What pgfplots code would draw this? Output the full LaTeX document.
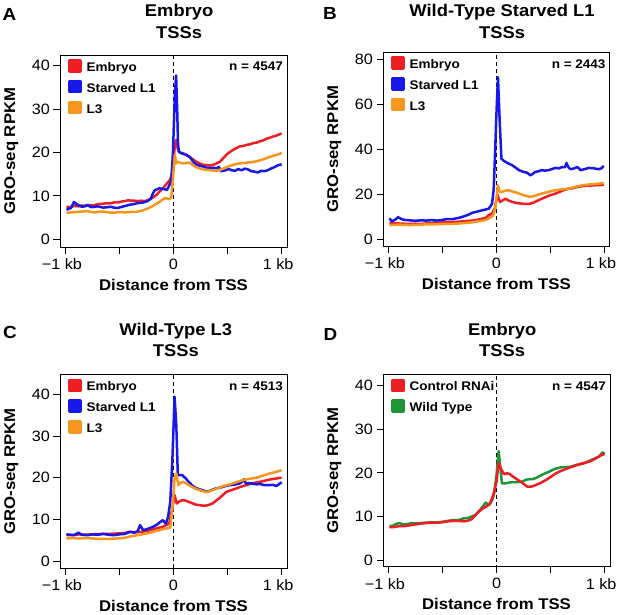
\documentclass[border=0pt]{standalone}
\usepackage{fontspec}
\setmainfont{Liberation Sans}[FakeStretch=1.08]
\usepackage{pgfplots}
\pgfplotsset{compat=1.18}
\definecolor{cred}{RGB}{238,30,36}
\definecolor{cblue}{RGB}{24,24,235}
\definecolor{corange}{RGB}{247,150,30}
\definecolor{cgreen}{RGB}{30,150,55}
\tikzset{nlab/.style={anchor=base east, font=\bfseries\fontsize{12.5}{12.5}\selectfont, inner sep=0pt, xshift=-4pt, yshift=-16pt}}
\pgfplotsset{
 panel/.style={
  scale only axis, width=227pt, height=193pt,
  xmin=-1.05, xmax=1.05,
  axis line style={line width=0.9pt},
  every tick/.style={black, line width=0.9pt},
  tick align=outside, major tick length=6.5pt,
  xtick pos=bottom, ytick pos=left,
  xtick={-1,-0.5,0,0.5,1}, xticklabels={−1 kb\hspace*{7pt},,0,,1 kb\hspace*{7pt}},
  tick label style={font=\fontsize{15}{15}\selectfont},
  xticklabel style={yshift=-1.5pt},
  /pgf/number format/assume math mode=true,
  xlabel={Distance from TSS}, ylabel={GRO-seq RPKM},
  label style={font=\bfseries\fontsize{15.5}{15.5}\selectfont},
  xlabel style={at={(axis description cs:0.5,-0.224)}, anchor=base, inner sep=0pt},
  ylabel style={at={(axis description cs:-0.198,0.5)}, anchor=base, inner sep=0pt},
  title style={at={(axis description cs:0.525,1)}, anchor=south, inner sep=0pt, align=center, font=\bfseries\fontsize{17}{21.5}\selectfont},
  legend style={at={(axis description cs:0,1)}, anchor=north west, xshift=8pt, yshift=-4pt, draw=none, fill=none, inner sep=0pt, font=\bfseries\fontsize{12.5}{12.5}\selectfont, nodes={inner sep=0pt, text height=10.2pt, text depth=8.4pt}, column sep=5pt, row sep=0pt},
  legend cell align=left,
  legend image code/.code={\fill[##1] (0pt,-0.8pt) rectangle (11pt,10.2pt);},
  every axis plot/.append style={line width=2.5pt, line join=round},
 },
 vdash/.style={black, line width=0.9pt, dash pattern=on 4pt off 3pt, forget plot},
}
\begin{document}
\begin{tikzpicture}
\path[use as bounding box] (0pt,0pt) rectangle (617pt,614pt);
\node[anchor=base west, font=\bfseries\fontsize{17.5}{17.5}\selectfont, inner sep=0pt] at (2.5pt,593.3pt) {A};
\node[anchor=base west, font=\bfseries\fontsize{17.5}{17.5}\selectfont, inner sep=0pt] at (323pt,594pt) {B};
\node[anchor=base west, font=\bfseries\fontsize{17.5}{17.5}\selectfont, inner sep=0pt] at (3pt,275.7pt) {C};
\node[anchor=base west, font=\bfseries\fontsize{17.5}{17.5}\selectfont, inner sep=0pt] at (323.5pt,274pt) {D};

% ---------------- A
\begin{axis}[panel, at={(60pt,367pt)}, anchor=south west, height=192pt,
  ymin=-1.78, ymax=42.5, ytick={0,10,20,30,40}, title={Embryo\\TSSs},
  title style={yshift=10.5pt}]
\addplot[vdash] coordinates {(0,-10) (0,100)};
\addplot[cred] coordinates {(-0.99,7.5)(-0.95,7.4)(-0.92,7.7)(-0.88,7.6)(-0.85,7.8)(-0.81,7.7)(-0.78,7.9)(-0.74,7.8)(-0.70,8.1)(-0.66,8.2)(-0.62,8.3)(-0.58,8.3)(-0.55,8.5)(-0.51,8.5)(-0.48,8.7)(-0.45,8.8)(-0.42,9.0)(-0.39,8.9)(-0.36,8.9)(-0.33,8.8)(-0.30,8.9)(-0.27,8.8)(-0.24,9.0)(-0.21,9.3)(-0.18,9.8)(-0.15,10.4)(-0.13,11.0)(-0.11,11.5)(-0.09,12.0)(-0.06,12.9)(-0.03,13.8)(-0.015,15)(0.0,18)(0.012,21.5)(0.025,22.9)(0.04,20.8)(0.055,20.0)(0.07,19.9)(0.1,19.7)(0.12,19.5)(0.14,19.1)(0.16,18.8)(0.18,18.4)(0.21,17.9)(0.24,17.5)(0.27,17.2)(0.31,17.1)(0.34,17.0)(0.37,17.2)(0.40,17.5)(0.43,17.9)(0.46,18.7)(0.49,19.5)(0.52,20.1)(0.55,20.6)(0.58,21.0)(0.61,21.4)(0.64,21.5)(0.68,21.8)(0.71,21.9)(0.74,22.2)(0.77,22.3)(0.80,22.6)(0.83,22.8)(0.86,23.2)(0.89,23.4)(0.92,23.7)(0.95,23.9)(0.98,24.2)(1.0,24.4)};
\addlegendentry{Embryo}
\addplot[cblue] coordinates {(-0.99,6.8)(-0.95,7.2)(-0.92,8.6)(-0.89,8.0)(-0.85,7.5)(-0.82,7.6)(-0.80,7.9)(-0.76,7.4)(-0.73,7.5)(-0.70,7.6)(-0.65,7.3)(-0.61,7.4)(-0.58,7.5)(-0.55,7.3)(-0.52,7.2)(-0.49,7.4)(-0.46,7.6)(-0.43,7.8)(-0.40,8.0)(-0.37,8.1)(-0.34,8.3)(-0.31,8.4)(-0.28,8.5)(-0.24,8.8)(-0.21,9.4)(-0.19,10.6)(-0.17,11.4)(-0.15,11.5)(-0.13,11.8)(-0.11,11.6)(-0.09,11.6)(-0.06,11.4)(-0.04,12.4)(-0.02,13.5)(-0.005,20)(0.012,33)(0.024,37.8)(0.034,30)(0.042,22)(0.05,20.2)(0.08,19.8)(0.10,19.6)(0.12,19.4)(0.15,19.0)(0.18,18.0)(0.21,17.2)(0.24,17.0)(0.27,16.8)(0.31,16.5)(0.34,16.4)(0.37,16.5)(0.40,16.4)(0.42,16.7)(0.44,15.7)(0.46,15.8)(0.48,15.9)(0.51,16.2)(0.54,15.9)(0.57,15.8)(0.60,16.2)(0.63,15.9)(0.66,16.3)(0.69,16.1)(0.72,15.7)(0.75,15.6)(0.78,15.4)(0.81,15.8)(0.84,15.7)(0.87,15.9)(0.90,16.3)(0.93,16.6)(0.96,17.0)(1.0,17.3)};
\addlegendentry{Starved L1}
\addplot[corange] coordinates {(-0.99,6.1)(-0.95,6.2)(-0.90,6.3)(-0.85,6.4)(-0.80,6.5)(-0.76,6.3)(-0.72,6.2)(-0.68,6.4)(-0.65,6.4)(-0.60,6.2)(-0.55,6.1)(-0.50,6.3)(-0.45,6.2)(-0.40,6.3)(-0.35,6.3)(-0.31,6.5)(-0.28,6.7)(-0.25,7.0)(-0.22,7.3)(-0.19,7.7)(-0.16,8.2)(-0.13,8.6)(-0.11,9.0)(-0.085,9.4)(-0.065,9.5)(-0.04,9.2)(-0.02,9.8)(-0.005,14)(0.012,19.5)(0.025,17.5)(0.043,17.9)(0.065,17.6)(0.09,17.5)(0.12,17.6)(0.15,17.7)(0.18,17.1)(0.21,16.6)(0.25,16.3)(0.28,16.1)(0.31,16.0)(0.35,15.9)(0.40,15.8)(0.44,16.1)(0.49,16.6)(0.53,17.0)(0.57,17.3)(0.61,17.5)(0.65,17.6)(0.69,17.7)(0.73,17.8)(0.77,18.0)(0.81,18.3)(0.85,18.6)(0.89,19.0)(0.93,19.3)(0.97,19.6)(1.0,19.9)};
\addlegendentry{L3}
\node[nlab] at (rel axis cs:1,1) {n = 4547};
\end{axis}

% ---------------- B
\begin{axis}[panel, at={(383pt,368pt)}, anchor=south west, width=226.7pt, height=193.7pt,
  ymin=-3.0, ymax=83.1, ytick={0,20,40,60,80}, title={Wild-Type Starved L1\\TSSs},
  title style={yshift=7.5pt}]
\addplot[vdash] coordinates {(0,-10) (0,100)};
\addplot[cred] coordinates {(-0.99,7.3)(-0.95,7.1)(-0.9,7.0)(-0.85,6.9)(-0.8,6.8)(-0.75,6.9)(-0.7,6.8)(-0.65,7.0)(-0.6,7.2)(-0.55,7.3)(-0.5,7.5)(-0.45,7.5)(-0.4,7.7)(-0.35,7.8)(-0.3,8.0)(-0.25,8.2)(-0.2,8.4)(-0.15,8.9)(-0.1,9.5)(-0.07,10.7)(-0.04,11.5)(-0.015,13.6)(0.01,20)(0.022,18)(0.035,16.6)(0.06,17.3)(0.084,18)(0.115,17.2)(0.146,16.6)(0.18,16.2)(0.21,16.0)(0.24,15.8)(0.28,15.7)(0.315,15.8)(0.35,16.4)(0.385,17.2)(0.42,18.0)(0.46,18.8)(0.5,19.6)(0.547,20.3)(0.58,20.9)(0.61,21.6)(0.64,22.1)(0.67,22.5)(0.70,22.6)(0.73,23.0)(0.76,23.3)(0.8,23.6)(0.84,23.8)(0.88,23.9)(0.92,24.0)(0.96,24.1)(0.995,24.3)};
\addlegendentry{Embryo}
\addplot[cblue] coordinates {(-0.99,9.3)(-0.97,8.0)(-0.94,8.6)(-0.91,9.8)(-0.88,9.0)(-0.85,8.6)(-0.80,8.4)(-0.75,8.2)(-0.70,8.4)(-0.65,8.3)(-0.60,8.5)(-0.55,8.3)(-0.50,8.6)(-0.45,9.0)(-0.41,8.9)(-0.38,9.2)(-0.34,9.6)(-0.30,10.2)(-0.26,10.9)(-0.22,11.8)(-0.195,12.1)(-0.16,12.5)(-0.13,12.9)(-0.10,13.2)(-0.07,13.6)(-0.04,15.8)(-0.025,22)(-0.015,34.4)(0.0,55)(0.015,72.1)(0.03,53.6)(0.047,35.8)(0.065,35)(0.084,34.4)(0.115,33.6)(0.146,32.9)(0.18,31.8)(0.21,30.7)(0.254,29.9)(0.285,29.6)(0.315,28.4)(0.34,29.2)(0.36,29.9)(0.39,30.2)(0.42,30.7)(0.45,30.5)(0.485,30.7)(0.515,31.2)(0.547,31.7)(0.58,31.5)(0.61,32.1)(0.635,32.0)(0.65,33.9)(0.665,32.2)(0.686,31.1)(0.72,31.5)(0.75,32.1)(0.765,31.5)(0.78,30.7)(0.82,31.2)(0.856,31.7)(0.89,31.6)(0.92,31.4)(0.95,31.1)(0.975,31.6)(0.995,32.6)};
\addlegendentry{Starved L1}
\addplot[corange] coordinates {(-0.99,6.3)(-0.95,6.4)(-0.9,6.5)(-0.85,6.4)(-0.8,6.3)(-0.75,6.4)(-0.7,6.5)(-0.65,6.6)(-0.6,6.6)(-0.55,6.7)(-0.5,6.8)(-0.45,6.8)(-0.4,6.9)(-0.35,7.0)(-0.3,7.2)(-0.25,7.4)(-0.2,7.7)(-0.15,8.1)(-0.1,8.6)(-0.07,9.2)(-0.03,10.5)(-0.01,13.6)(0.015,24)(0.03,21.2)(0.05,21)(0.08,21.6)(0.115,21.8)(0.15,21.2)(0.18,20.8)(0.21,20.3)(0.25,19.6)(0.28,19.2)(0.315,18.8)(0.35,19.2)(0.385,19.8)(0.42,20.3)(0.46,20.8)(0.5,21.3)(0.547,21.8)(0.59,22.1)(0.63,22.3)(0.67,22.5)(0.71,23.0)(0.75,23.5)(0.8,24.0)(0.85,24.3)(0.9,24.5)(0.95,24.7)(0.995,25.0)};
\addlegendentry{L3}
\node[nlab] at (rel axis cs:1,1) {n = 2443};
\end{axis}

% ---------------- C
\begin{axis}[panel, at={(60pt,45.7pt)}, anchor=south west, height=194pt,
  ymin=-1.75, ymax=44.8, ytick={0,10,20,30,40}, title={Wild-Type L3\\TSSs},
  title style={at={(axis description cs:0.51,1)}, yshift=11.2pt}]
\addplot[vdash] coordinates {(0,-10) (0,100)};
\addplot[cred] coordinates {(-0.99,6.2)(-0.93,6.2)(-0.87,6.4)(-0.8,6.3)(-0.74,6.4)(-0.67,6.5)(-0.6,6.5)(-0.53,6.6)(-0.46,6.7)(-0.4,7.0)(-0.35,6.9)(-0.3,7.0)(-0.25,7.2)(-0.2,7.5)(-0.15,7.9)(-0.1,8.2)(-0.07,8.6)(-0.04,9.0)(-0.015,12)(0.01,15.8)(0.03,13.8)(0.055,14.3)(0.08,14.6)(0.11,14.5)(0.14,14.2)(0.18,13.8)(0.21,13.5)(0.24,13.4)(0.27,13.3)(0.3,13.3)(0.33,13.5)(0.36,13.8)(0.39,14.4)(0.42,15.0)(0.455,15.8)(0.49,16.6)(0.535,17.0)(0.58,17.4)(0.62,17.8)(0.67,18.2)(0.72,18.6)(0.76,18.8)(0.8,19.0)(0.85,19.3)(0.9,19.6)(0.95,19.8)(1.0,20.0)};
\addlegendentry{Embryo}
\addplot[cblue] coordinates {(-0.99,6.4)(-0.95,6.3)(-0.92,6.2)(-0.88,6.8)(-0.85,6.3)(-0.8,6.2)(-0.75,6.4)(-0.7,6.3)(-0.65,6.5)(-0.6,6.3)(-0.55,6.2)(-0.5,6.4)(-0.45,6.5)(-0.405,7.0)(-0.36,6.8)(-0.33,7.2)(-0.31,8.6)(-0.28,7.4)(-0.25,7.6)(-0.22,7.9)(-0.19,8.2)(-0.15,8.8)(-0.12,9.4)(-0.1,9.8)(-0.07,9.0)(-0.05,10.6)(-0.03,14.2)(-0.01,24.6)(0.01,39.4)(0.026,32.6)(0.04,20.6)(0.06,20.6)(0.08,20.6)(0.11,19.9)(0.14,19.0)(0.17,18.2)(0.2,17.6)(0.24,17.2)(0.27,17.0)(0.31,16.6)(0.35,17.0)(0.39,17.4)(0.43,17.6)(0.47,17.9)(0.52,18.2)(0.56,18.3)(0.61,18.6)(0.63,18.9)(0.65,19.6)(0.67,18.6)(0.7,18.7)(0.74,18.5)(0.77,18.4)(0.8,18.5)(0.84,18.2)(0.89,18.2)(0.92,18.3)(0.95,18.0)(0.98,18.5)(1.0,18.9)};
\addlegendentry{Starved L1}
\addplot[corange] coordinates {(-0.99,5.4)(-0.93,5.5)(-0.87,5.4)(-0.8,5.5)(-0.74,5.4)(-0.67,5.3)(-0.6,5.3)(-0.53,5.4)(-0.46,5.5)(-0.4,5.9)(-0.33,6.2)(-0.25,6.6)(-0.2,6.9)(-0.16,7.2)(-0.12,7.5)(-0.07,7.8)(-0.03,8.0)(-0.01,12.6)(0.01,19.8)(0.026,21)(0.045,18.2)(0.065,18.8)(0.09,19.0)(0.13,18.4)(0.17,17.8)(0.2,17.4)(0.24,17.0)(0.28,16.7)(0.31,16.5)(0.35,16.9)(0.39,17.3)(0.45,17.9)(0.52,18.4)(0.58,18.9)(0.64,19.4)(0.7,19.7)(0.77,20.0)(0.83,20.5)(0.89,21.0)(0.95,21.4)(1.0,21.8)};
\addlegendentry{L3}
\node[nlab] at (rel axis cs:1,1) {n = 4513};
\end{axis}

% ---------------- D
\begin{axis}[panel, at={(383pt,47.3pt)}, anchor=south west, height=192.4pt,
  ymin=-1.5, ymax=42.6, ytick={0,10,20,30,40}, title={Embryo\\TSSs},
  title style={yshift=11.2pt}, reverse legend]
\addplot[vdash] coordinates {(0,-10) (0,100)};
\addplot[cgreen] coordinates {(-0.99,7.8)(-0.96,7.9)(-0.93,8.3)(-0.9,8.5)(-0.86,8.2)(-0.82,8.3)(-0.78,8.5)(-0.74,8.4)(-0.7,8.5)(-0.65,8.6)(-0.6,8.7)(-0.55,8.6)(-0.5,8.8)(-0.45,9.0)(-0.4,9.2)(-0.35,9.2)(-0.3,9.6)(-0.26,9.7)(-0.2,10.3)(-0.16,11.3)(-0.13,12.2)(-0.1,13.2)(-0.07,12.6)(-0.04,13.8)(-0.02,15.5)(0.0,19.5)(0.02,25)(0.035,21.5)(0.05,17.6)(0.08,17.6)(0.12,17.8)(0.16,17.9)(0.2,17.9)(0.24,18.0)(0.27,18.4)(0.31,18.6)(0.34,18.6)(0.37,18.9)(0.4,19.3)(0.43,19.7)(0.46,20.0)(0.49,20.3)(0.52,20.7)(0.55,21.0)(0.6,21.3)(0.64,21.3)(0.68,21.4)(0.71,21.6)(0.74,21.8)(0.78,22.0)(0.82,22.3)(0.87,22.9)(0.91,23.3)(0.95,23.8)(0.98,24.7)(1.0,24.4)};
\addlegendentry{Wild Type}
\addplot[cred] coordinates {(-0.99,7.6)(-0.95,7.6)(-0.9,7.8)(-0.85,7.8)(-0.8,8.0)(-0.75,8.2)(-0.7,8.4)(-0.65,8.5)(-0.6,8.6)(-0.55,8.6)(-0.5,8.7)(-0.45,8.9)(-0.4,9.0)(-0.35,9.0)(-0.3,8.9)(-0.26,9.1)(-0.23,9.4)(-0.2,10.2)(-0.165,11.1)(-0.13,11.8)(-0.1,12.2)(-0.06,13.0)(-0.03,14.9)(0.0,18)(0.02,22.2)(0.04,21)(0.07,19.7)(0.095,19.9)(0.12,19.8)(0.15,19.2)(0.18,18.7)(0.21,18.2)(0.24,17.7)(0.27,17.1)(0.29,16.8)(0.33,16.9)(0.36,17.2)(0.4,17.6)(0.43,18.0)(0.46,18.4)(0.49,18.9)(0.52,19.4)(0.55,19.9)(0.6,20.5)(0.65,21.0)(0.7,21.4)(0.74,21.8)(0.78,22.1)(0.83,22.4)(0.87,22.7)(0.91,23.2)(0.95,23.8)(1.0,24.4)};
\addlegendentry{Control RNAi}
\node[nlab] at (rel axis cs:1,1) {n = 4547};
\end{axis}
\end{tikzpicture}
\end{document}
